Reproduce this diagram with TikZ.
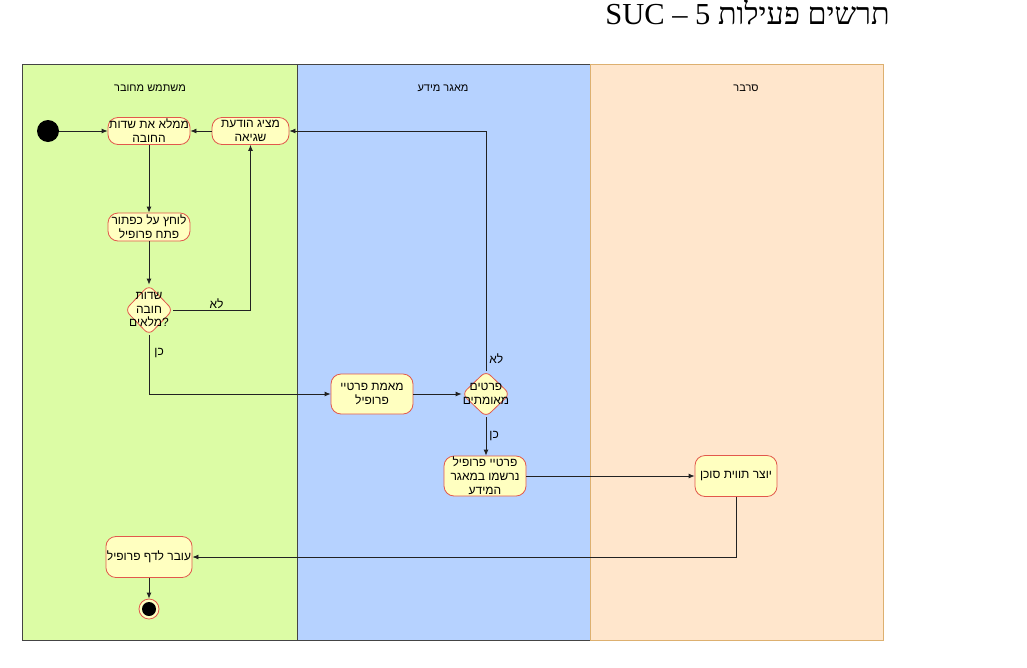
\documentclass[tikz,border=0pt]{standalone}
\usepackage{fontspec}
\usetikzlibrary{shapes.geometric,arrows.meta}
\TeXXeTstate=1
\newfontfamily\hebfont[Script=Hebrew]{Liberation Sans}
\newfontfamily\hebserif[Script=Hebrew]{Liberation Serif}
\newcommand{\hebr}[1]{\beginR #1\endR}

\definecolor{lanegreen}{HTML}{DCFCA5}
\definecolor{laneblue}{HTML}{B6D2FF}
\definecolor{laneorange}{HTML}{FFE6CC}
\definecolor{orangeedge}{HTML}{DDB070}
\definecolor{laneedge}{HTML}{444444}
\definecolor{actfill}{HTML}{FFFFC0}
\definecolor{actedge}{HTML}{E2584C}
\definecolor{flow}{HTML}{222222}

\tikzset{
  lane/.style={draw=laneedge, line width=0.8pt},
  lanetitle/.style={font=\hebfont\fontsize{11}{13}\selectfont, inner sep=0pt},
  act/.style={draw=actedge, fill=actfill, rounded corners=10pt, line width=0.8pt,
    minimum width=82pt, align=center, inner sep=1pt,
    font=\hebfont\fontsize{12}{14}\selectfont},
  decision/.style={draw=actedge, fill=actfill, diamond, rounded corners=6pt,
    line width=0.8pt, inner sep=0pt},
  dectext/.style={align=center, inner sep=0pt, font=\hebfont\fontsize{12}{13.5}\selectfont},
  flowline/.style={draw=flow, line width=0.8pt, -{Latex[length=6pt,width=5pt]}},
  guard/.style={font=\hebfont\fontsize{12}{14}\selectfont, inner sep=1pt, text=black},
}

\begin{document}
\begin{tikzpicture}[x=1pt, y=-1pt]
\useasboundingbox[fill=white] (0,0) rectangle (1027,667);

% title
\node[anchor=base east, inner sep=0pt, font=\hebserif\fontsize{30.5}{33}\selectfont]
  (title) at (890,24) {SUC – 5 \hebr{תרשים פעילות}};

% swimlanes
\fill[lanegreen] (22,64) rectangle (297,640);
\fill[laneblue] (297,64) rectangle (590,640);
\fill[laneorange] (590,64) rectangle (883,640);
\draw[lane] (22,64) rectangle (297,640);
\draw[lane] (297,64) rectangle (590,640);
\draw[draw=orangeedge, line width=0.8pt] (590,64) rectangle (883,640);
\node[lanetitle] (laneuser) at (150,88) {\hebr{משתמש מחובר}};
\node[lanetitle] (lanedb) at (443,88) {\hebr{מאגר מידע}};
\node[lanetitle] (laneserver) at (746,88) {\hebr{סרבר}};

% start and end
\node[circle, fill=black, minimum size=22pt, inner sep=0pt] (start) at (48,131) {};
\node[circle, draw=actedge, fill=actfill, line width=0.8pt, minimum size=20pt, inner sep=0pt] (finish) at (149,609) {};
\node[circle, fill=black, minimum size=14pt, inner sep=0pt] (finishdot) at (149,609) {};

% activities
\node[act, minimum height=27pt] (fill) at (149,131) {\hebr{ממלא את שדות}\\\hebr{החובה}};
\node[act, minimum width=77pt, minimum height=27pt] (err) at (250.5,131) {\hebr{מציג הודעת}\\\hebr{שגיאה}};
\node[act, minimum height=28pt] (click) at (149,227) {\hebr{לוחץ על כפתור}\\\hebr{פתח פרופיל}};
\node[act, minimum height=40pt] (verify) at (372,394) {\hebr{מאמת פרטיי}\\\hebr{פרופיל}};
\node[act, minimum height=40pt] (saved) at (485,476) {\hebr{פרטיי פרופיל}\\\hebr{נרשמו במאגר}\\\hebr{המידע}};
\node[act, minimum height=41pt] (token) at (736,476) {\hebr{יוצר תווית סוכן}};
\node[act, minimum height=41pt] (move) at (149,557) {\hebr{עובר לדף פרופיל}};

% decisions
\node[decision, minimum width=48pt, minimum height=50pt,
  label={[dectext]center:\hebr{שדות}\\\hebr{חובה}\\{\hebr{מלאים}}?}] (dec1) at (149,310) {};
\node[decision, minimum width=48pt, minimum height=46pt,
  label={[dectext]center:\hebr{פרטים}\\\hebr{מאומתים}}] (dec2) at (486,394) {};

% flows
\draw[flowline] (start) -- (fill);
\draw[flowline] (err) -- (fill);
\draw[flowline] (fill) -- (click);
\draw[flowline] (click) -- (dec1);
\draw[flowline] (dec1.east) -| node[guard, pos=0.28, above] (no1) {\hebr{לא}} (err.south);
\draw[flowline] (dec1.south) -- node[guard, pos=0.3, right=4pt] (yes1) {\hebr{כן}} (dec1.south |- verify.west) -- (verify.west);
\draw[flowline] (verify) -- (dec2);
\draw[flowline] (dec2.north) -- node[guard, pos=0.05, right=2pt] (no2) {\hebr{לא}} (dec2.north |- err.east) -- (err.east);
\draw[flowline] (dec2.south) -- node[guard, midway, right=2pt] (yes2) {\hebr{כן}} (dec2.south |- saved.north);
\draw[flowline] (saved) -- (token);
\draw[flowline] (token.south) |- (move.east);
\draw[flowline] (move) -- (finish);
\end{tikzpicture}
\end{document}
